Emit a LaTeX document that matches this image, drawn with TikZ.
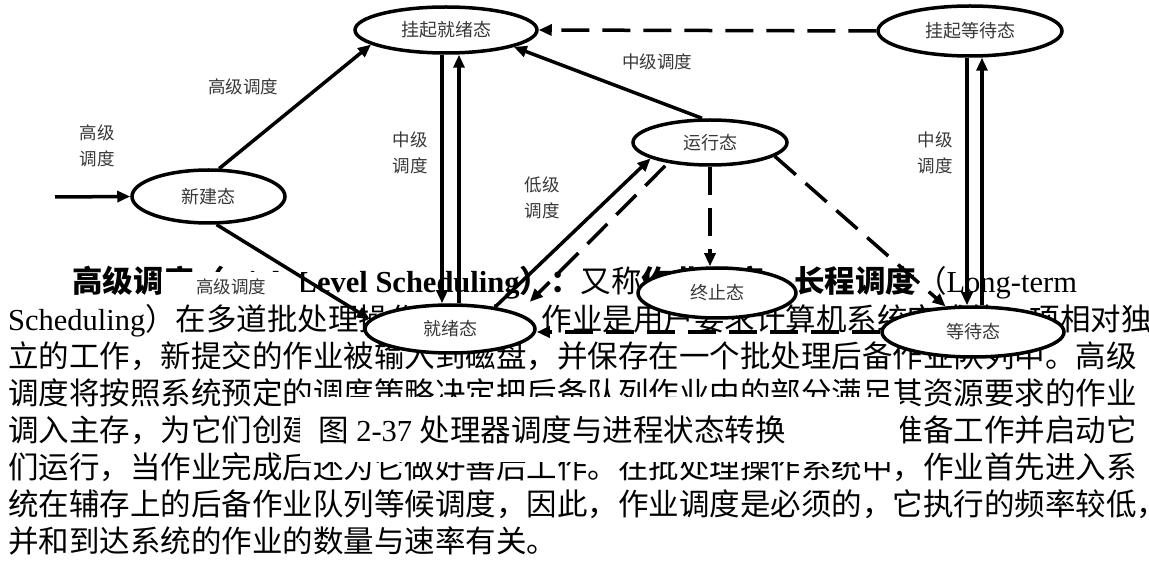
\documentclass[tikz,border=0pt]{standalone}
\usepackage{fontspec}
\setmainfont{Liberation Serif}
\newfontfamily\cjk{Noto Sans CJK SC}
\usetikzlibrary{shapes.geometric,arrows.meta,calc}
\XeTeXlinebreaklocale "zh"
\XeTeXlinebreakskip=0pt plus 4pt minus 2pt
\newcommand{\bodysize}{\fontsize{30.5}{36}\selectfont}
\newcommand{\latn}[1]{{\rmfamily #1}}
\newcommand{\jline}[1]{\hbox to 1132pt{#1}}
\tikzset{
  body/.style={anchor=base west, inner sep=0pt, font=\cjk\bodysize},
  state/.style={ellipse, draw, line width=3.5pt, fill=white, inner sep=0pt,
    font=\cjk\fontsize{18}{20}\selectfont, text=black!78},
  lab/.style={font=\cjk\fontsize{17.5}{26}\selectfont, text=black!78, align=center, inner sep=0pt},
  conn/.style={line width=3.5pt, -{Triangle[length=13pt,width=11pt]}},
  dconn/.style={conn, dash pattern=on 28pt off 13pt},
}
\begin{document}
\begin{tikzpicture}[x=1pt,y=-1pt]
\fill[white] (0,0) rectangle (1149,561);
\useasboundingbox (0,0) rectangle (1149,561);
% body text
\node[body] (t1) at (72,292.6) {{\bfseries 高级调度（\latn{High Level Scheduling}）：}又称{\bfseries 作业调度、长程调度}（\latn{Long-term}};
\node[body] (t2) at (8,330.6) {\jline{\latn{Scheduling}）在多道批处理操作系统中，作业是用户要求计算机系统完成的一项相对独}};
\node[body] (t3) at (8,367.6) {\jline{立的工作，新提交的作业被输入到磁盘，并保存在一个批处理后备作业队列中。高级}};
\node[body] (t4) at (8,404.6) {\jline{调度将按照系统预定的调度策略决定把后备队列作业中的部分满足其资源要求的作业}};
\node[body] (t5) at (8,441.6) {\jline{调入主存，为它们创建进程、分配必要的资源，为其做好运行前的准备工作并启动它}};
\node[body] (t6) at (8,478.6) {\jline{们运行，当作业完成后还为它做好善后工作。在批处理操作系统中，作业首先进入系}};
\node[body] (t7) at (8,515.6) {\jline{统在辅存上的后备作业队列等候调度，因此，作业调度是必须的，它执行的频率较低，}};
\node[body] (t8) at (8,552.6) {并和到达系统的作业的数量与速率有关。};
% caption
\node[fill=white, minimum width=600pt, minimum height=65pt, inner sep=0pt, anchor=north west] (capbox) at (300,397) {};
\node[body] (cap) at (318,441.6) {图\latn{ 2-37 }处理器调度与进程状态转换};
% labels
\node[lab] (la) at (97,146) {高级\\调度};
\node[lab] (lb) at (243,87) {高级调度};
\node[lab, fill=white, minimum width=140pt, minimum height=30pt] (lc) at (231,287) {高级调度};
\node[lab] (ld) at (410,153) {中级\\调度};
\node[lab] (le) at (657,62) {中级调度};
\node[lab] (lf) at (542,198) {低级\\调度};
\node[lab] (lg) at (935,153) {中级\\调度};
% states
\node[state, minimum width=182pt, minimum height=46pt] (RS) at (446,30) {挂起就绪态};
\node[state, minimum width=184pt, minimum height=50pt] (WS) at (970,31) {挂起等待态};
\node[state, minimum width=154pt, minimum height=45pt] (RUN) at (710,142.5) {运行态};
\node[state, minimum width=153pt, minimum height=53pt] (NEW) at (208.5,196.5) {新建态};
\node[state, minimum width=170pt, minimum height=48pt] (RDY) at (450,329) {就绪态};
\node[state, minimum width=158pt, minimum height=50pt] (TERM) at (717,293) {终止态};
\node[state, minimum width=182pt, minimum height=50pt] (WAIT) at (973,332) {等待态};
% connectors
\coordinate (in) at (55,197);
\draw[conn] (in) -- (NEW.west);
\draw[conn] (NEW.69) -- (RS.191);
\draw[conn] (NEW.286) -- (RDY.173);
\draw[conn] ([xshift=-4pt]RS.south) -- ([xshift=-8pt]RDY.north);
\draw[conn] ([xshift=9pt]RDY.north) -- ([xshift=13pt]RS.south);
\draw[conn] ([xshift=-8pt]RUN.north) -- (RS.-14);
\draw[dconn] (WS.west) -- (RS.east);
\draw[conn] ([xshift=-3pt]WS.south) -- ([xshift=-6pt]WAIT.north);
\draw[conn] ([xshift=9pt]WAIT.north) -- ([xshift=12pt]WS.south);
\draw[conn] (RDY.26) -- (RUN.195);
\draw[dconn, shorten <=4pt, shorten >=16pt] (RUN.206) -- (RDY.13);
\draw[dconn] (RUN.south) -- (RUN.south |- TERM.north);
\draw[dconn] (RUN.-12) -- (WAIT.137);
\draw[dconn] (WAIT.west) -- (WAIT.west -| RDY.east);
\end{tikzpicture}
\end{document}
